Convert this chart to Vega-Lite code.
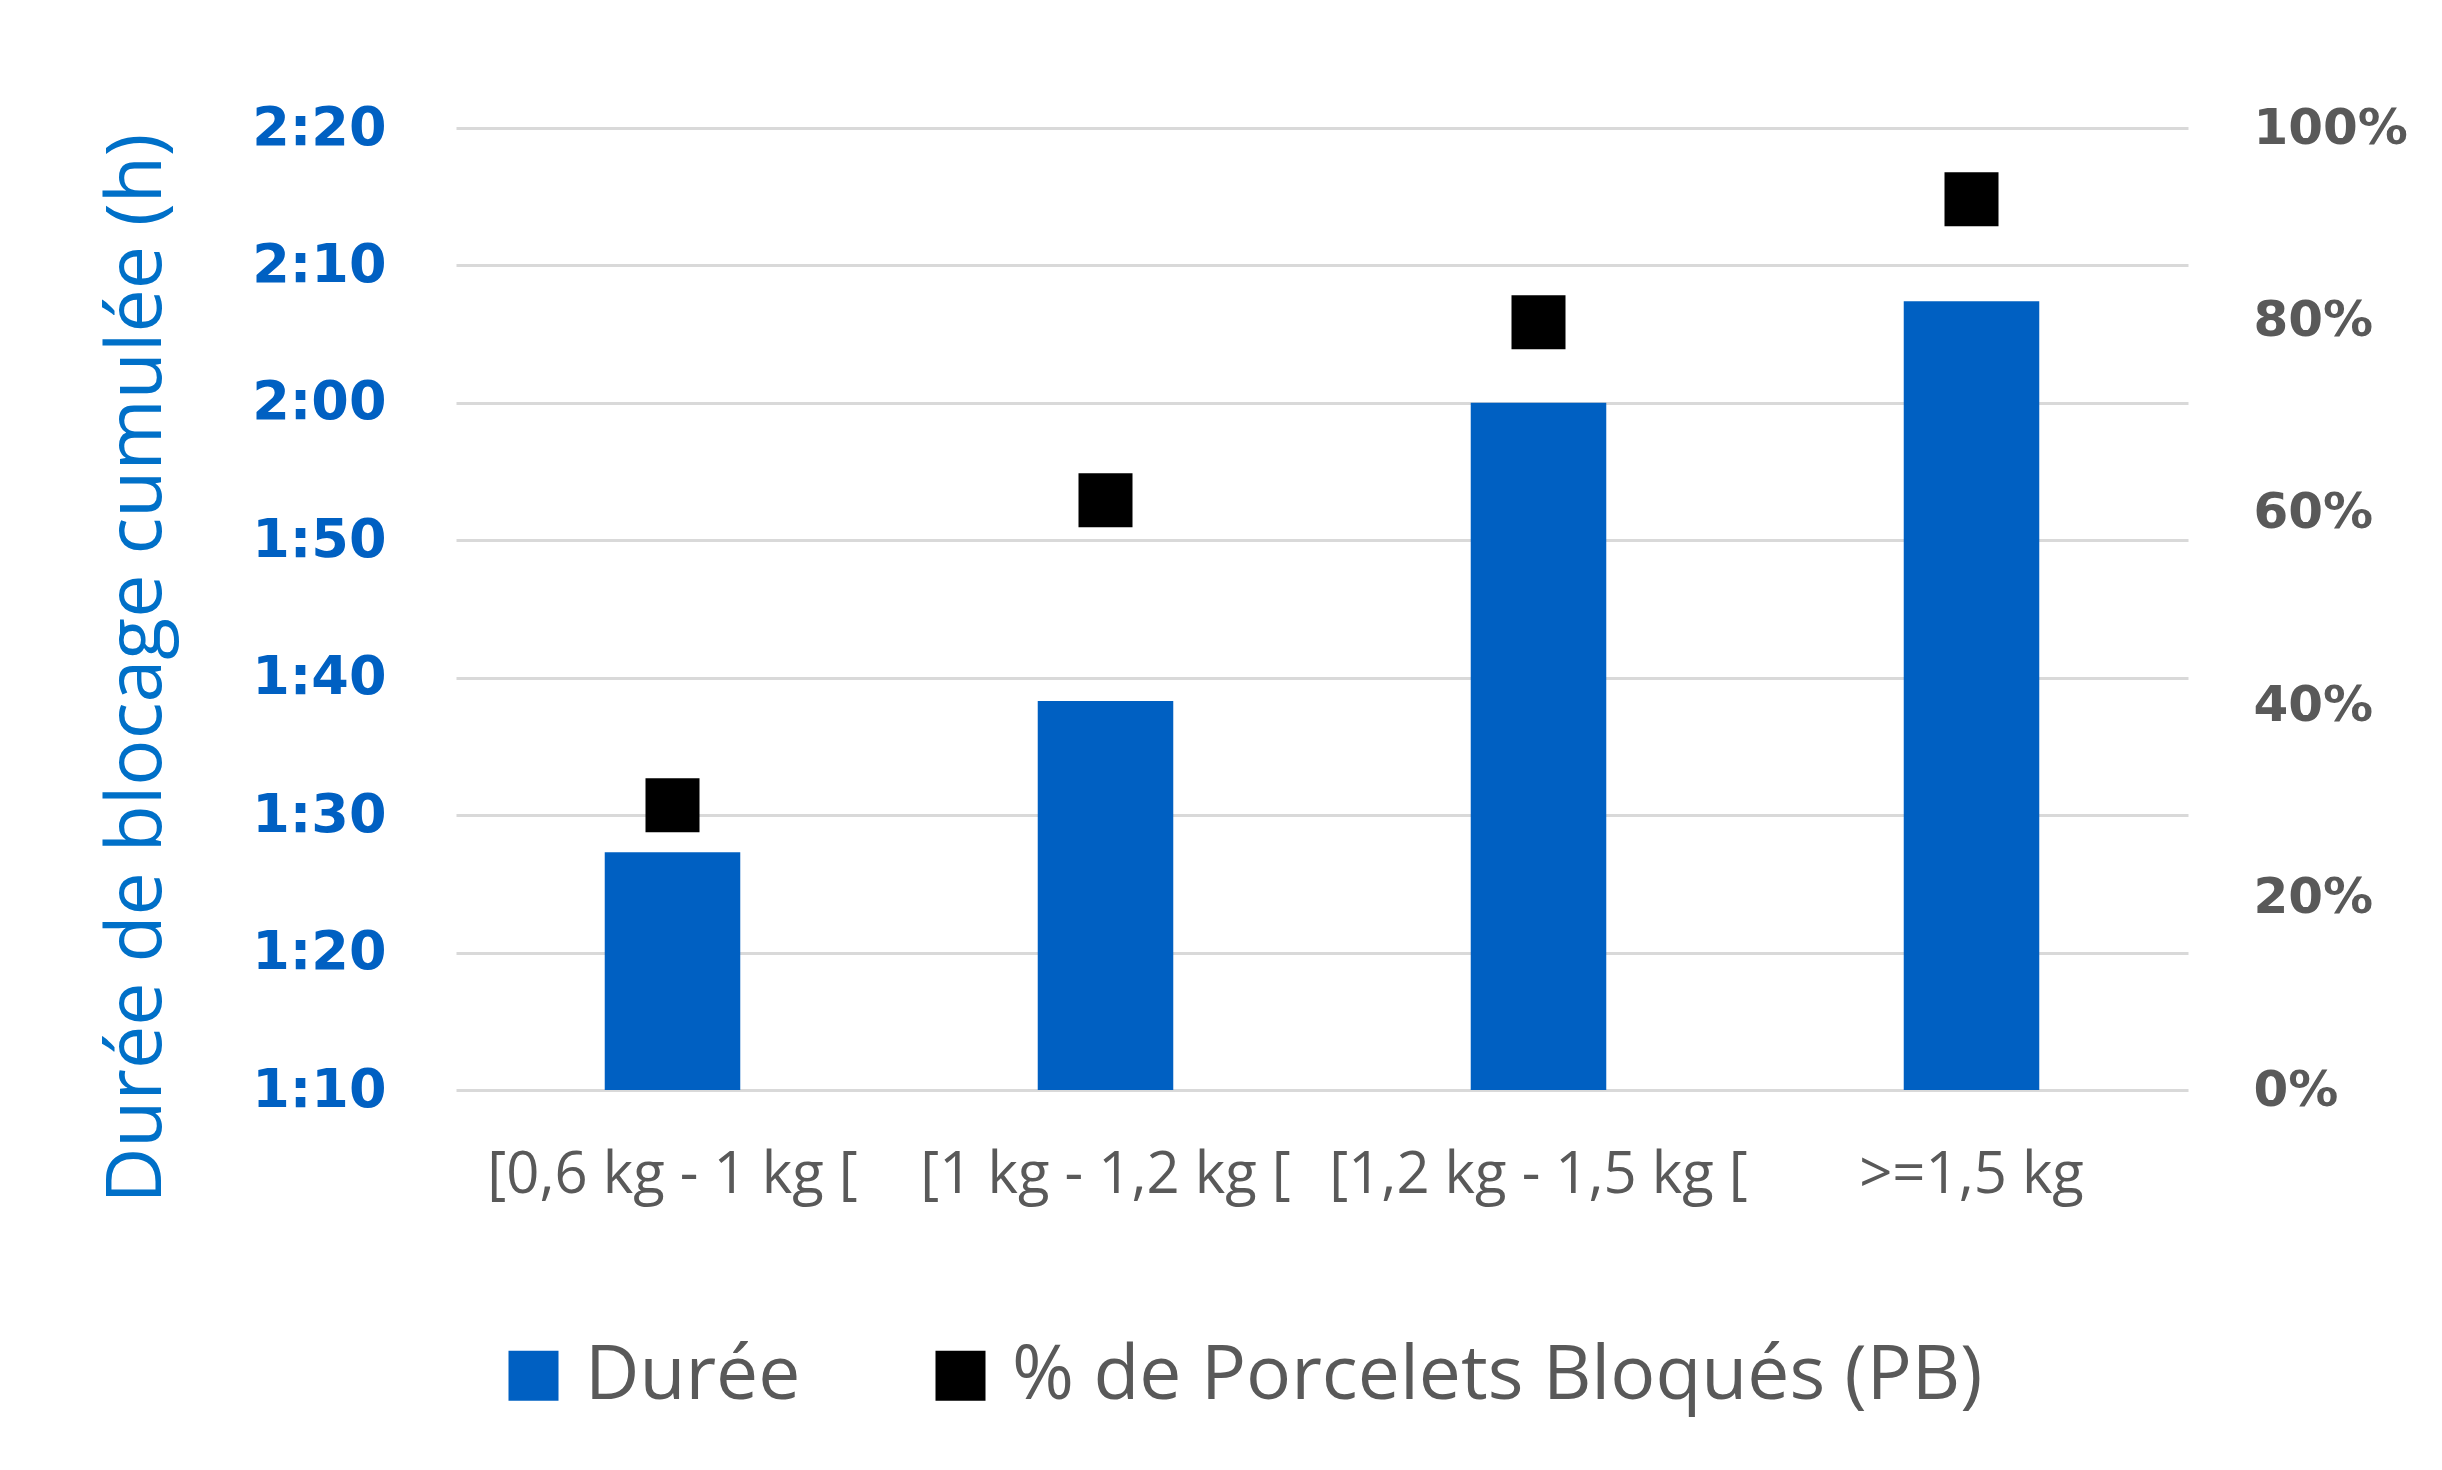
{
  "$schema": "https://vega.github.io/schema/vega-lite/v6.json",
  "autosize": {"type": "none"},
  "width": 1732,
  "height": 962,
  "padding": {"left": 456, "top": 128, "right": 254, "bottom": 380},
  "background": "#ffffff",
  "config": {
    "view": {"stroke": null},
    "axis": {"gridColor": "#D9D9D9", "gridWidth": 3, "ticks": false, "domain": false}
  },
  "data": {
    "values": [
      {"cat": "[0,6 kg - 1 kg [", "duree": 87.3, "pct": 0.296},
      {"cat": "[1 kg - 1,2 kg [", "duree": 98.3, "pct": 0.613},
      {"cat": "[1,2 kg - 1,5 kg [", "duree": 120, "pct": 0.798},
      {"cat": ">=1,5 kg", "duree": 127.4, "pct": 0.926}
    ]
  },
  "encoding": {
    "x": {
      "field": "cat", "type": "nominal", "sort": null,
      "scale": {"paddingInner": 0.687, "paddingOuter": 0.3435},
      "axis": {
        "title": null, "labelAngle": 0, "labelFont": "Open Sans", "labelFontSize": 58,
        "labelColor": "#595959", "labelPadding": 56, "labelBaseline": "top", "labelLimit": 600, "grid": false
      }
    }
  },
  "layer": [
    {
      "mark": {"type": "bar", "color": "#0060C2"},
      "encoding": {
        "y": {
          "field": "duree", "type": "quantitative",
          "scale": {"domain": [70, 140], "zero": false, "nice": false},
          "axis": {
            "orient": "left", "values": [70, 80, 90, 100, 110, 120, 130, 140],
            "labelExpr": "floor(datum.value/60) + ':' + (datum.value%60 < 10 ? '0' : '') + (datum.value%60)",
            "labelFont": "DejaVu Sans", "labelFontWeight": "bold", "labelFontSize": 54, "labelColor": "#0060C2",
            "labelPadding": 70, "grid": true,
            "title": "Durée de blocage cumulée (h)", "titleFont": "Open Sans", "titleFontWeight": "normal",
            "titleFontSize": 77, "titleColor": "#0070C8", "titlePadding": 80, "titleY": 540
          }
        },
        "y2": {"datum": 70},
        "color": {
          "datum": "Durée",
          "scale": {"domain": ["Durée", "% de Porcelets Bloqués (PB)"], "range": ["#0060C2", "#000000"]},
          "legend": {
            "title": null, "orient": "none", "direction": "horizontal", "legendX": 40, "legendY": 1210,
            "symbolType": "square", "symbolSize": 2500, "symbolStrokeWidth": 0,
            "labelFont": "Open Sans", "labelFontSize": 75, "labelColor": "#595959", "labelLimit": 1400,
            "labelOffset": 14, "columnPadding": 122
          }
        }
      }
    },
    {
      "mark": {"type": "square", "filled": true, "size": 2916, "opacity": 1},
      "encoding": {
        "y": {
          "field": "pct", "type": "quantitative",
          "scale": {"domain": [0, 1], "nice": false},
          "axis": {
            "orient": "right", "values": [0, 0.2, 0.4, 0.6, 0.8, 1], "format": ".0%", "grid": false,
            "labelFont": "DejaVu Sans", "labelFontWeight": "bold", "labelFontSize": 50, "labelColor": "#595959",
            "labelPadding": 65, "title": null
          }
        },
        "color": {"datum": "% de Porcelets Bloqués (PB)"}
      }
    }
  ],
  "resolve": {"scale": {"y": "independent"}}
}
